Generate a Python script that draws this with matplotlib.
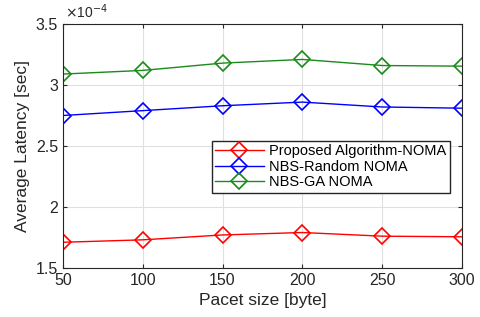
import matplotlib
matplotlib.use("Agg")
import matplotlib.pyplot as plt
import matplotlib.ticker as mticker

plt.rcParams["font.family"] = ["Liberation Sans", "DejaVu Sans"]

packet_size = [50, 100, 150, 200, 250, 300]
proposed = [1.71, 1.73, 1.77, 1.79, 1.76, 1.755]
nbs_random = [2.75, 2.79, 2.83, 2.86, 2.82, 2.81]
nbs_ga = [3.09, 3.12, 3.18, 3.21, 3.16, 3.155]
y_ticks = [1.5, 2, 2.5, 3, 3.5]

series = [
    ("Proposed Algorithm-NOMA", proposed, "#ff0000"),
    ("NBS-Random NOMA", nbs_random, "#0000ff"),
    ("NBS-GA NOMA", nbs_ga, "#1a8a1a"),
]

fig = plt.figure(figsize=(4.8, 3.17), dpi=100)
ax = fig.add_axes([0.131, 0.155, 0.8315, 0.769])

for label, vals, color in series:
    ax.plot(packet_size, [v * 1e-4 for v in vals], color=color, lw=1.0,
            marker="D", markersize=8, markerfacecolor="none",
            markeredgewidth=1.2, label=label)

ax.set_xlim(50, 300)
ax.set_ylim(1.5e-4, 3.5e-4)
ax.set_xticks(packet_size)
ax.set_yticks([t * 1e-4 for t in y_ticks])
ax.yaxis.set_major_formatter(mticker.FuncFormatter(lambda v, p: f"{v * 1e4:g}"))
ax.text(0.005, 1.012, r"$\times$10$^{-4}$", transform=ax.transAxes,
        fontsize=10, color="#262626", va="bottom", ha="left")
ax.grid(True, color="#e0e0e0", lw=0.8)
ax.tick_params(labelsize=11.5, direction="in", length=3, colors="#262626",
               top=True, right=True)
for s in ax.spines.values():
    s.set_color("#262626")
    s.set_linewidth(0.8)

ax.set_xlabel("Pacet size [byte]", fontsize=12.5, color="#262626")
ax.set_ylabel("Average Latency [sec]", fontsize=12.5, color="#262626")

ax.legend(loc="lower left", bbox_to_anchor=(0.373, 0.307), fontsize=10.5,
          frameon=True, fancybox=False, edgecolor="#262626", framealpha=1,
          handlelength=3.3, borderpad=0.25, labelspacing=0.1,
          handletextpad=0.35, borderaxespad=0)

fig.savefig("out.png", dpi=100)
